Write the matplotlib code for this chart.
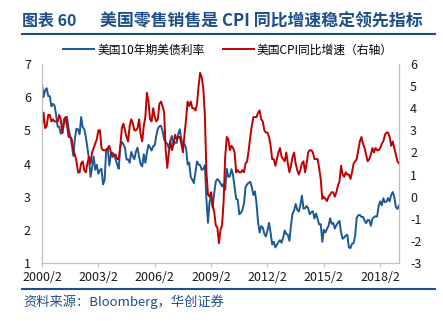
import numpy as np
import matplotlib
matplotlib.use("Agg")
import matplotlib.pyplot as plt
from matplotlib.lines import Line2D

plt.rcParams['font.family'] = ['Noto Sans CJK SC', 'DejaVu Sans']
plt.rcParams['axes.unicode_minus'] = False

# monthly data, 2000/2 .. 2019/2
# US 10Y treasury yield, month end (%)
ust10y = [
    6.41, 6.00, 6.21, 6.27, 6.03, 6.03, 5.72, 5.80, 5.75, 5.47, 5.11,
    5.11, 4.90, 4.92, 5.34, 5.38, 5.41, 5.05, 4.83, 4.59, 4.23, 4.75, 5.05,
    5.03, 4.88, 5.40, 5.09, 5.04, 4.80, 4.46, 4.14, 3.60, 3.89, 4.21, 3.81,
    3.96, 3.69, 3.80, 3.84, 3.37, 3.51, 4.41, 4.46, 3.94, 4.29, 4.33, 4.25,
    4.13, 3.97, 3.84, 4.51, 4.65, 4.58, 4.47, 4.12, 4.12, 4.02, 4.35, 4.22,
    4.13, 4.36, 4.48, 4.20, 3.98, 3.91, 4.28, 4.02, 4.33, 4.56, 4.49, 4.39,
    4.52, 4.55, 4.85, 5.05, 5.12, 5.14, 4.98, 4.73, 4.63, 4.60, 4.46, 4.70,
    4.83, 4.56, 4.64, 4.62, 4.89, 5.03, 4.74, 4.53, 4.58, 4.47, 3.97, 4.03,
    3.59, 3.51, 3.41, 3.73, 4.06, 3.97, 3.95, 3.81, 3.83, 3.95, 2.92, 2.21,
    2.84, 3.02, 2.67, 3.12, 3.46, 3.53, 3.48, 3.40, 3.31, 3.39, 3.20, 3.84,
    3.60, 3.61, 3.83, 3.65, 3.29, 2.93, 2.91, 2.47, 2.51, 2.60, 2.80, 3.29,
    3.37, 3.42, 3.45, 3.29, 3.05, 3.16, 2.80, 2.22, 1.92, 2.11, 2.07, 1.88,
    1.80, 1.98, 2.21, 1.91, 1.56, 1.64, 1.47, 1.55, 1.63, 1.69, 1.61, 1.76,
    1.98, 1.87, 1.85, 1.67, 2.13, 2.49, 2.58, 2.78, 2.61, 2.55, 2.74, 3.03,
    2.64, 2.65, 2.72, 2.65, 2.47, 2.53, 2.56, 2.34, 2.49, 2.34, 2.16, 2.17,
    1.64, 2.00, 1.92, 2.03, 2.12, 2.35, 2.18, 2.21, 2.04, 2.14, 2.21, 2.27,
    1.92, 1.73, 1.77, 1.83, 1.85, 1.47, 1.45, 1.58, 1.60, 1.83, 2.37, 2.44,
    2.45, 2.39, 2.39, 2.28, 2.20, 2.30, 2.29, 2.12, 2.33, 2.38, 2.41, 2.40,
    2.72, 2.86, 2.74, 2.95, 2.83, 2.85, 2.96, 2.86, 3.05, 3.14, 2.99, 2.69,
    2.63, 2.73,
]

# US CPI yoy (%)
cpi_yoy = [
    3.2, 3.8, 3.1, 3.2, 3.7, 3.7, 3.4, 3.5, 3.4, 3.4, 3.4,
    3.7, 3.5, 2.9, 3.3, 3.6, 3.2, 2.7, 2.7, 2.6, 2.1, 1.9, 1.6,
    1.1, 1.1, 1.5, 1.6, 1.2, 1.1, 1.5, 1.8, 1.5, 2.0, 2.2, 2.4,
    2.6, 3.0, 3.0, 2.2, 2.1, 2.1, 2.1, 2.2, 2.3, 2.0, 1.8, 1.9,
    1.9, 1.7, 1.7, 2.3, 3.1, 3.3, 3.0, 2.7, 2.5, 3.2, 3.5, 3.3,
    3.0, 3.0, 3.1, 3.5, 2.8, 2.5, 3.2, 3.6, 4.7, 4.3, 3.5, 3.4,
    4.0, 3.6, 3.4, 3.5, 4.2, 4.3, 4.1, 3.8, 2.1, 1.3, 2.0, 2.5,
    2.1, 2.4, 2.8, 2.6, 2.7, 2.7, 2.4, 2.0, 2.8, 3.5, 4.3, 4.1,
    4.3, 4.0, 4.0, 3.9, 4.2, 5.0, 5.6, 5.4, 4.9, 3.7, 1.1, 0.1,
    0.0, 0.2, -0.4, -0.7, -1.3, -1.4, -2.1, -1.5, -1.3, -0.2, 1.8, 2.7,
    2.6, 2.1, 2.3, 2.2, 2.0, 1.1, 1.2, 1.1, 1.1, 1.2, 1.1, 1.5,
    1.6, 2.1, 2.7, 3.2, 3.6, 3.6, 3.6, 3.8, 3.9, 3.5, 3.4, 3.0,
    2.9, 2.9, 2.7, 2.3, 1.7, 1.7, 1.4, 1.7, 2.0, 2.2, 1.8, 1.7,
    1.6, 2.0, 1.5, 1.1, 1.4, 1.8, 2.0, 1.5, 1.2, 1.0, 1.2, 1.5,
    1.6, 1.1, 1.5, 2.0, 2.1, 2.1, 2.0, 1.7, 1.7, 1.7, 1.3, 0.8,
    -0.1, 0.0, -0.1, -0.2, 0.0, 0.1, 0.2, 0.2, 0.0, 0.2, 0.5, 0.7,
    1.4, 1.0, 0.9, 1.1, 1.0, 1.0, 0.8, 1.1, 1.5, 1.6, 1.7, 2.1,
    2.5, 2.7, 2.4, 2.2, 1.9, 1.6, 1.7, 1.9, 2.2, 2.0, 2.2, 2.1,
    2.1, 2.2, 2.4, 2.5, 2.8, 2.9, 2.9, 2.7, 2.3, 2.5, 2.2, 1.9,
    1.6, 1.5,
]

labels = ['2000/2', '2003/2', '2006/2', '2009/2', '2012/2', '2015/2', '2018/2']

n = len(ust10y)
x = np.arange(n)
tick_pos = np.arange(0, n, 36)[:len(labels)]

blue = '#1B5A96'
red = '#C00000'
navy = '#1F4E8C'
grey = '#BFBFBF'

fig = plt.figure(figsize=(4.43, 3.21), dpi=100)
ax = fig.add_axes([0.0948, 0.1807, 0.8059, 0.6199])
ax2 = ax.twinx()

ax.plot(x, ust10y, color=blue, lw=1.4)
ax2.plot(x, cpi_yoy, color=red, lw=1.4)

ax.set_xlim(0, n - 1)
ax.set_ylim(1, 7)
ax.set_yticks(range(1, 8))
ax2.set_ylim(-3, 6)
ax2.set_yticks(range(-3, 7))
ax.set_xticks(tick_pos)
ax.set_xticklabels(labels)

for a in (ax, ax2):
    a.spines['top'].set_visible(False)
    for s in ('left', 'right', 'bottom'):
        a.spines[s].set_color(grey)
        a.spines[s].set_linewidth(0.8)
    a.tick_params(axis='y', length=0, pad=8, labelsize=9, colors='#1a1a1a')
ax.tick_params(axis='x', length=3, direction='out', color=grey, pad=3,
               labelsize=9, labelcolor='#1a1a1a')

handles = [Line2D([], [], color=blue, lw=1.4), Line2D([], [], color=red, lw=1.4)]
fig.legend(handles, ['美国10年期美债利率', '美国CPI同比增速（右轴）'],
           loc='center', bbox_to_anchor=(0.515, 0.844), ncol=2, frameon=False,
           fontsize=8.5, handlelength=2.6, handletextpad=0.25, columnspacing=1.6,
           borderaxespad=0, borderpad=0)

# heading
fig.text(0.05, 0.935, '图表 60', fontsize=11.5, fontweight='bold', color=navy,
         va='center', ha='left')
fig.text(0.226, 0.935, '美国零售销售是 CPI 同比增速稳定领先指标',
         fontsize=12.2, fontweight='bold', color=navy, va='center', ha='left')
fig.add_artist(Line2D([0.05, 0.982], [0.893, 0.893], color=navy, lw=1.5,
                      transform=fig.transFigure))
fig.add_artist(Line2D([0.05, 0.982], [0.1, 0.1], color=navy, lw=1.5,
                      transform=fig.transFigure))
fig.text(0.052, 0.06, '资料来源：Bloomberg，华创证券', fontsize=9.5,
         style='italic', color=navy, va='center', ha='left')

fig.savefig('out.png', dpi=100)
